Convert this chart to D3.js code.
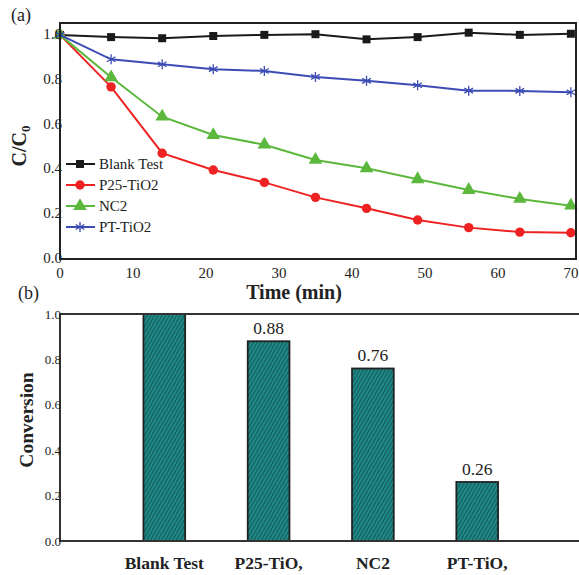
<!DOCTYPE html>
<html>
<head>
<meta charset="utf-8">
<script src="https://cdn.jsdelivr.net/npm/d3@7"></script>
<style>
  body { margin: 0; background: #fff; }
  text { font-family: "Liberation Serif", "DejaVu Serif", serif; fill: #222; }
</style>
</head>
<body>
<div id="chart"></div>
<script>
// --- data (a): C/C0 vs time ---
var times = [0, 7, 14, 21, 28, 35, 42, 49, 56, 63, 70];
var blankTest = [1.0, 0.99, 0.985, 0.995, 1.0, 1.003, 0.98, 0.99, 1.01, 1.0, 1.005];
var p25TiO2 = [1.0, 0.768, 0.472, 0.397, 0.342, 0.275, 0.226, 0.174, 0.14, 0.12, 0.117];
var nc2 = [1.0, 0.811, 0.635, 0.553, 0.51, 0.442, 0.405, 0.356, 0.308, 0.268, 0.238];
var ptTiO2 = [1.0, 0.891, 0.869, 0.847, 0.839, 0.8125, 0.795, 0.775, 0.751, 0.75, 0.744];
var xTicksA = [0, 10, 20, 30, 40, 50, 60, 70];
var yTicksA = [0.0, 0.2, 0.4, 0.6, 0.8, 1.0];

// --- data (b): conversion ---
var barCategories = ["Blank Test", "P25-TiO,", "NC2", "PT-TiO,"];
var conversion = [1.0, 0.88, 0.76, 0.26];
var barLabels = ["", "0.88", "0.76", "0.26"];
var yTicksB = [0.0, 0.2, 0.4, 0.6, 0.8, 1.0];

var series = [
  { name: "Blank Test", values: blankTest, color: "#1a1a1a", symbol: d3.symbolSquare, size: 64, fill: true },
  { name: "P25-TiO2", values: p25TiO2, color: "#ee2222", symbol: d3.symbolCircle, size: 70, fill: true },
  { name: "NC2", values: nc2, color: "#5cb83c", symbol: d3.symbolTriangle, size: 80, fill: true },
  { name: "PT-TiO2", values: ptTiO2, color: "#3c4cb4", symbol: d3.symbolAsterisk, size: 70, fill: false }
];

var svg = d3.select("#chart").append("svg")
  .attr("width", 579).attr("height", 575);

// ===== panel (a) =====
var x = d3.scaleLinear().domain([0, 70.7]).range([60, 576]);
var y = d3.scaleLinear().domain([0, 1.053]).range([259, 23]);

svg.append("text").attr("x", 11).attr("y", 21).attr("font-size", 18).text("(a)");

var line = d3.line()
  .x(function(d, i){ return x(times[i]); })
  .y(function(d){ return y(d); });

series.forEach(function(s){
  svg.append("path")
    .datum(s.values)
    .attr("d", line)
    .attr("fill", "none")
    .attr("stroke", s.color)
    .attr("stroke-width", 2);
  svg.selectAll(null).data(s.values).enter()
    .append("path")
    .attr("transform", function(d, i){ return "translate(" + x(times[i]) + "," + y(d) + ")"; })
    .attr("d", d3.symbol().type(s.symbol).size(s.size))
    .attr("fill", s.fill ? s.color : "none")
    .attr("stroke", s.color)
    .attr("stroke-width", s.fill ? 0 : 1.3);
});

// frame
svg.append("rect").attr("x", 60).attr("y", 23).attr("width", 516).attr("height", 236)
  .attr("fill", "none").attr("stroke", "#222").attr("stroke-width", 2);

// ticks
svg.selectAll(".xta").data(xTicksA).enter().append("text")
  .attr("x", function(d){ return x(d); }).attr("y", 278)
  .attr("text-anchor", "middle").attr("font-size", 15)
  .text(function(d){ return d; });
svg.selectAll(".yta").data(yTicksA).enter().append("text")
  .attr("x", 62).attr("y", function(d){ return y(d) + 4; })
  .attr("text-anchor", "end").attr("font-size", 15)
  .text(function(d){ return d.toFixed(1); });

svg.append("text").attr("x", 294).attr("y", 299).attr("text-anchor", "middle")
  .attr("font-size", 20).attr("font-weight", "bold").text("Time (min)");

var yt = svg.append("text").attr("transform", "translate(26,146) rotate(-90)")
  .attr("text-anchor", "middle").attr("font-size", 20).attr("font-weight", "bold");
yt.append("tspan").text("C/C");
yt.append("tspan").attr("font-size", 13).attr("dy", 4).text("0");

// legend
series.forEach(function(s, i){
  var ly = 164 + i * 21;
  svg.append("line").attr("x1", 66).attr("x2", 95).attr("y1", ly).attr("y2", ly)
    .attr("stroke", s.color).attr("stroke-width", 2);
  svg.append("path").attr("transform", "translate(80," + ly + ")")
    .attr("d", d3.symbol().type(s.symbol).size(s.size))
    .attr("fill", s.fill ? s.color : "none")
    .attr("stroke", s.color).attr("stroke-width", s.fill ? 0 : 1.3);
  svg.append("text").attr("x", 99).attr("y", ly + 5).attr("font-size", 15).text(s.name);
});

// ===== panel (b) =====
var xb = d3.scaleBand().domain(barCategories)
  .range([60, 60 + 104.3 * 5]).paddingInner(0.6).paddingOuter(0.8);
var yb = d3.scaleLinear().domain([0, 1]).range([541, 314]);

svg.append("text").attr("x", 18).attr("y", 299).attr("font-size", 18).text("(b)");

var defs = svg.append("defs");
var pat = defs.append("pattern").attr("id", "hatch")
  .attr("patternUnits", "userSpaceOnUse").attr("width", 3.2).attr("height", 3.2)
  .attr("patternTransform", "rotate(30)");
pat.append("rect").attr("width", 3.2).attr("height", 3.2).attr("fill", "#1c8785");
pat.append("line").attr("x1", 0).attr("y1", 0).attr("x2", 0).attr("y2", 3.2)
  .attr("stroke", "#15393a").attr("stroke-width", 1.1);

svg.selectAll(".bar").data(conversion).enter().append("rect")
  .attr("class", "bar")
  .attr("x", function(d, i){ return xb(barCategories[i]); })
  .attr("y", function(d){ return yb(d); })
  .attr("width", xb.bandwidth())
  .attr("height", function(d){ return yb(0) - yb(d); })
  .attr("fill", "url(#hatch)").attr("stroke", "#222").attr("stroke-width", 1.8);

svg.selectAll(".blab").data(barLabels).enter().append("text")
  .attr("x", function(d, i){ return xb(barCategories[i]) + xb.bandwidth() / 2; })
  .attr("y", function(d, i){ return yb(conversion[i]) - 7; })
  .attr("text-anchor", "middle").attr("font-size", 17.5)
  .text(function(d){ return d; });

// axes lines of (b)
svg.append("path").attr("d", "M60,314H579M60,313V541H579")
  .attr("fill", "none").attr("stroke", "#333").attr("stroke-width", 2);

svg.selectAll(".ytb").data(yTicksB).enter().append("text")
  .attr("x", 61).attr("y", function(d){ return yb(d) + 4.5; })
  .attr("text-anchor", "end").attr("font-size", 13)
  .text(function(d){ return d.toFixed(1); });

svg.selectAll(".xtb").data(barCategories).enter().append("text")
  .attr("x", function(d){ return xb(d) + xb.bandwidth() / 2; }).attr("y", 569)
  .attr("text-anchor", "middle").attr("font-size", 17.5).attr("font-weight", "bold")
  .text(function(d){ return d; });

svg.append("text").attr("transform", "translate(33,420) rotate(-90)")
  .attr("text-anchor", "middle").attr("font-size", 19.5).attr("font-weight", "bold")
  .text("Conversion");
</script>
</body>
</html>
